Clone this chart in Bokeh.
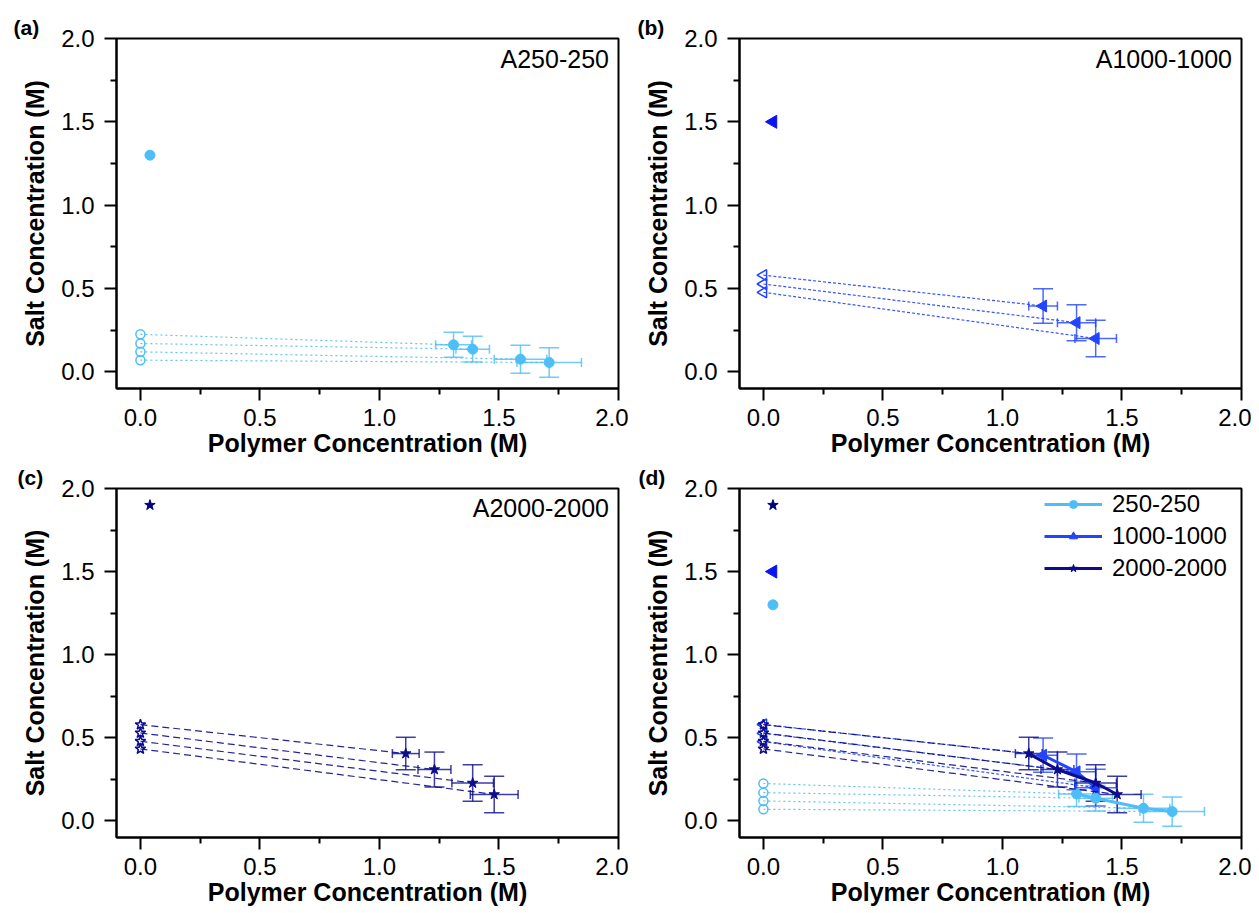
import numpy as np
from bokeh.plotting import figure
from bokeh.models import (ColumnDataSource, Whisker, TeeHead, Label, Legend, LegendItem,
                          Range1d, FixedTicker, PrintfTickFormatter)
from bokeh.layouts import gridplot
from bokeh.embed import file_html
from bokeh.resources import INLINE

# ---------------- data ----------------
major_ticks = [0.0, 0.5, 1.0, 1.5, 2.0]
minor_ticks = [0.25, 0.75, 1.25, 1.75]

# 250-250
s250_dense_x = [1.31, 1.39, 1.59, 1.71]
s250_dense_y = [0.162, 0.136, 0.076, 0.056]
s250_dense_xerr = [0.075, 0.070, 0.110, 0.135]
s250_dense_yerr = [0.075, 0.077, 0.084, 0.088]
s250_dilute_x = [0.0, 0.0, 0.0, 0.0]
s250_dilute_y = [0.225, 0.170, 0.120, 0.070]
s250_single_x = [0.04]
s250_single_y = [1.30]

# 1000-1000
s1000_dense_x = [1.17, 1.31, 1.39]
s1000_dense_y = [0.395, 0.295, 0.200]
s1000_dense_xerr = [0.060, 0.080, 0.087]
s1000_dense_yerr = [0.103, 0.108, 0.110]
s1000_dilute_x = [0.0, 0.0, 0.0]
s1000_dilute_y = [0.580, 0.527, 0.477]
s1000_single_x = [0.04]
s1000_single_y = [1.50]

# 2000-2000
s2000_dense_x = [1.11, 1.23, 1.39, 1.48]
s2000_dense_y = [0.405, 0.309, 0.228, 0.159]
s2000_dense_xerr = [0.056, 0.069, 0.087, 0.100]
s2000_dense_yerr = [0.098, 0.105, 0.110, 0.110]
s2000_dilute_x = [0.0, 0.0, 0.0, 0.0]
s2000_dilute_y = [0.579, 0.529, 0.479, 0.433]
s2000_single_x = [0.04]
s2000_single_y = [1.90]

series = {
    "250-250": dict(dx=s250_dense_x, dy=s250_dense_y, xe=s250_dense_xerr, ye=s250_dense_yerr,
                    ux=s250_dilute_x, uy=s250_dilute_y, sx=s250_single_x, sy=s250_single_y,
                    color="#4DBEF8", single_color="#4DBEF8", marker="circle", angle=0.0,
                    size=10, open_size=9, single_size=10, dash="2 3"),
    "1000-1000": dict(dx=s1000_dense_x, dy=s1000_dense_y, xe=s1000_dense_xerr, ye=s1000_dense_yerr,
                      ux=s1000_dilute_x, uy=s1000_dilute_y, sx=s1000_single_x, sy=s1000_single_y,
                      color="#2244FF", single_color="#0A14F0", marker="triangle", angle=np.pi / 2,
                      size=12, open_size=11, single_size=13, dash="3 2"),
    "2000-2000": dict(dx=s2000_dense_x, dy=s2000_dense_y, xe=s2000_dense_xerr, ye=s2000_dense_yerr,
                      ux=s2000_dilute_x, uy=s2000_dilute_y, sx=s2000_single_x, sy=s2000_single_y,
                      color="#0C0C8C", single_color="#00007F", marker="star", angle=0.0,
                      size=11, open_size=11, single_size=11, dash="7 4"),
}

FONT = "Liberation Sans"


def make_panel(letter, keys, note, show_legend, width, height, bl, br, bt, bb, title_offset):
    p = figure(width=width, height=height, x_range=Range1d(-0.1, 2.0), y_range=Range1d(-0.1, 2.0),
               output_backend="svg", toolbar_location=None,
               min_border_left=bl, min_border_right=br, min_border_top=bt, min_border_bottom=bb,
               title=letter)
    p.grid.visible = False
    p.outline_line_color = "black"
    p.outline_line_width = 2
    p.background_fill_color = "white"
    p.border_fill_color = "white"

    p.title.align = "left"
    p.title.offset = title_offset
    p.title.standoff = 0
    p.title.text_font = FONT
    p.title.text_font_size = "21px"
    p.title.text_font_style = "bold"
    p.title.text_color = "black"

    for ax in (p.xaxis[0], p.yaxis[0]):
        ax.ticker = FixedTicker(ticks=major_ticks, minor_ticks=minor_ticks)
        ax.formatter = PrintfTickFormatter(format="%.1f")
        ax.axis_line_width = 2
        ax.axis_line_color = "black"
        ax.major_tick_line_width = 2
        ax.minor_tick_line_width = 2
        ax.major_tick_line_color = "black"
        ax.minor_tick_line_color = "black"
        ax.major_tick_in = 0
        ax.major_tick_out = 12
        ax.minor_tick_in = 0
        ax.minor_tick_out = 6
        ax.major_label_text_font = FONT
        ax.major_label_text_font_size = "24px"
        ax.major_label_text_color = "black"
        ax.axis_label_text_font = FONT
        ax.axis_label_text_font_style = "bold"
        ax.axis_label_text_font_size = "25px"
        ax.axis_label_text_color = "black"
    p.xaxis.axis_label = "Polymer Concentration (M)"
    p.yaxis.axis_label = "Salt Concentration (M)"
    p.xaxis.major_label_standoff = 8
    p.xaxis.axis_label_standoff = 0
    p.yaxis.major_label_standoff = 10
    p.yaxis.axis_label_standoff = 9

    legend_items = []
    for k in keys:
        s = series[k]
        c = s["color"]
        # tie lines
        p.segment(x0=s["ux"], y0=s["uy"], x1=s["dx"], y1=s["dy"], line_color=c,
                  line_width=1.2, line_dash=s["dash"], line_alpha=0.9)
        # error bars
        src = ColumnDataSource(dict(
            x=s["dx"], y=s["dy"],
            xlo=[a - e for a, e in zip(s["dx"], s["xe"])], xhi=[a + e for a, e in zip(s["dx"], s["xe"])],
            ylo=[a - e for a, e in zip(s["dy"], s["ye"])], yhi=[a + e for a, e in zip(s["dy"], s["ye"])]))
        p.add_layout(Whisker(source=src, base="x", lower="ylo", upper="yhi", dimension="height",
                             line_color=c, line_width=1.5, line_alpha=0.8,
                             upper_head=TeeHead(size=20, line_color=c, line_width=1.5, line_alpha=0.8),
                             lower_head=TeeHead(size=20, line_color=c, line_width=1.5, line_alpha=0.8)))
        p.add_layout(Whisker(source=src, base="y", lower="xlo", upper="xhi", dimension="width",
                             line_color=c, line_width=1.5, line_alpha=0.8,
                             upper_head=TeeHead(size=9, line_color=c, line_width=1.5, line_alpha=0.8),
                             lower_head=TeeHead(size=9, line_color=c, line_width=1.5, line_alpha=0.8)))
        line_r = None
        if show_legend:
            line_r = p.line(s["dx"], s["dy"], line_color=c, line_width=3)
        # dilute (open) markers
        p.scatter(s["ux"], s["uy"], marker=s["marker"], angle=s["angle"], size=s["open_size"],
                  fill_color=None, line_color=c, line_width=1.5)
        # dense (filled) markers
        dense_r = p.scatter(s["dx"], s["dy"], marker=s["marker"], angle=s["angle"], size=s["size"],
                            fill_color=c, line_color=c, line_width=1)
        # single-phase point
        p.scatter(s["sx"], s["sy"], marker=s["marker"], angle=s["angle"], size=s["single_size"],
                  fill_color=s["single_color"], line_color=s["single_color"], line_width=1)
        if show_legend:
            legend_items.append(LegendItem(label=k, renderers=[line_r, dense_r]))

    if note:
        p.add_layout(Label(x=1.96, y=1.88, text=note, text_align="right", text_baseline="middle",
                           text_font=FONT, text_font_size="25px", text_color="black"))
    if show_legend:
        lg = Legend(items=legend_items, location=(305, 255), label_text_font=FONT,
                    label_text_font_size="24px", label_text_color="black",
                    glyph_width=58, glyph_height=20, label_height=20, spacing=4,
                    label_standoff=10, padding=0, margin=0,
                    border_line_alpha=0, background_fill_alpha=0)
        p.add_layout(lg, "center")
    return p


pa = make_panel("(a)", ["250-250"], "A250-250", False, 628, 463, 116, 10, 38, 75, -103)
pb = make_panel("(b)", ["1000-1000"], "A1000-1000", False, 623, 463, 111, 10, 38, 75, -102)
pc = make_panel("(c)", ["2000-2000"], "A2000-2000", False, 628, 449, 116, 10, 24, 75, -99)
pd = make_panel("(d)", ["250-250", "1000-1000", "2000-2000"], None, True, 623, 449, 111, 10, 24, 75, -101)

grid = gridplot([[pa, pb], [pc, pd]], toolbar_location=None)

open("out.html", "w").write(file_html(grid, INLINE))
